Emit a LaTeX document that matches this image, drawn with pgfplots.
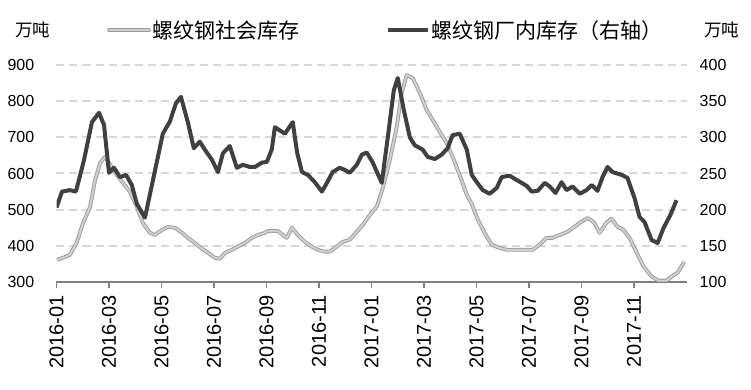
\documentclass[border=0pt]{standalone}
\usepackage{pgfplots}
\usepackage{pgfplotstable}
\pgfplotsset{compat=1.18}
\usepackage{fontspec}
\setmainfont{Liberation Sans}
\newfontfamily\cjk{Noto Sans CJK SC}
\definecolor{gout}{HTML}{9A9A9A}
\definecolor{gin}{HTML}{D0D0D0}
\definecolor{dk}{HTML}{404040}
\definecolor{gridc}{HTML}{D9D9D9}
\definecolor{axc}{HTML}{808080}

\pgfplotstableread{
m v
0.02 361
0.25 367
0.51 375
0.78 411
1.01 463
1.28 508
1.47 582
1.66 629
1.85 646
2.04 625
2.30 596
2.53 574
2.80 549
3.06 508
3.29 463
3.56 436
3.75 430
4.02 444
4.24 452
4.51 450
4.78 436
5.01 422
5.27 408
5.54 392
5.77 381
6.03 367
6.22 364
6.41 380
6.68 389
6.91 398
7.18 408
7.44 422
7.67 430
7.94 436
8.05 441
8.43 441
8.77 422
8.97 450
9.19 430
9.46 411
9.72 398
9.95 389
10.22 384
10.41 384
10.68 398
10.91 411
11.17 417
11.44 439
11.67 458
11.93 485
12.20 508
12.43 560
12.70 638
12.96 729
13.15 823
13.34 872
13.57 864
13.84 823
14.10 776
14.33 748
14.60 715
14.86 685
15.09 646
15.36 596
15.63 541
15.82 515
16.05 472
16.31 436
16.58 403
16.88 394
17.15 389
17.64 389
18.14 389
18.40 403
18.67 422
18.90 422
19.17 430
19.47 439
19.74 453
20.00 467
20.23 477
20.49 464
20.69 436
20.95 464
21.14 475
21.37 453
21.60 444
21.87 417
22.10 381
22.37 342
22.67 315
22.93 304
23.24 304
23.47 317
23.66 326
23.92 356
}\social

\pgfplotstableread{
m v
0.00 203
0.21 225
0.51 227
0.74 225
1.05 269
1.35 321
1.62 334
1.81 317
2.00 251
2.19 258
2.42 245
2.65 248
2.87 234
3.06 208
3.37 189
3.67 240
4.05 305
4.32 322
4.55 347
4.74 356
5.01 320
5.23 285
5.46 294
5.65 283
5.92 269
6.15 252
6.34 278
6.60 288
6.87 258
7.10 262
7.37 259
7.56 259
7.82 265
8.01 266
8.20 283
8.32 314
8.70 305
9.00 321
9.16 280
9.35 252
9.58 248
9.84 238
10.11 225
10.30 237
10.52 252
10.79 258
10.98 255
11.17 251
11.44 262
11.63 276
11.82 279
12.05 265
12.39 237
12.62 300
12.85 365
13.00 382
13.23 338
13.46 300
13.65 289
13.95 283
14.14 273
14.41 270
14.67 276
14.90 285
15.09 303
15.36 305
15.63 283
15.82 248
16.01 238
16.24 227
16.50 222
16.77 230
16.96 245
17.26 247
17.53 241
17.72 237
17.91 233
18.10 225
18.33 226
18.60 237
18.79 232
19.01 223
19.24 238
19.43 227
19.66 232
19.93 222
20.19 227
20.39 234
20.61 226
20.80 245
20.99 259
21.18 252
21.53 248
21.75 244
22.02 216
22.21 190
22.40 183
22.67 158
22.90 154
23.13 175
23.39 193
23.62 213
}\factory

\begin{document}
\begin{tikzpicture}
\path[use as bounding box] (-56.5pt,-108pt) rectangle (694.5pt,282pt);
\pgfplotsset{
  base/.style={
    scale only axis, width=630pt, height=217pt,
    at={(0,0)}, anchor=south west,
    xmin=0, xmax=24,
    /pgf/number format/assume math mode=true,
    tick label style={font=\fontsize{16}{18}\selectfont},
  }
}
\begin{axis}[base,
  ymin=300, ymax=900, ytick={300,400,...,900},
  axis x line*=bottom, axis y line*=left,
  y axis line style={draw=none},
  ytick style={draw=none},
  x axis line style={color=axc, line width=1.2pt},
  xtick={0,2,...,22},
  xticklabels={2016-01,2016-03,2016-05,2016-07,2016-09,2016-11,2017-01,2017-03,2017-05,2017-07,2017-09,2017-11},
  xtick style={color=axc, line width=1.2pt},
  tick align=outside, major tick length=6pt,
  xticklabel shift=7pt,
  xticklabel style={rotate=90, anchor=east, inner sep=0pt, font=\fontsize{20}{22}\selectfont},
  yticklabel style={inner sep=0pt, xshift=-16pt},
  ymajorgrids,
  grid style={color=gridc, line width=2pt, dash pattern=on 8pt off 5pt},
  legend columns=2,
  legend style={draw=none, fill=none, at={(0.080,1.161)}, anchor=west, inner sep=0pt,
    font=\cjk\fontsize{21}{24}\selectfont,
    /tikz/every even column/.append style={column sep=84pt},
    /tikz/every odd column/.append style={column sep=0pt}},
]
\addplot[forget plot, color=gout, line width=3.8pt, line join=round] table[x=m,y=v]{\social};
\addplot[forget plot, color=gin, line width=2.0pt, line join=round] table[x=m,y=v]{\social};
\addlegendimage{legend image code/.code={
  \draw[line width=3.8pt,color=gout,line cap=round] (0pt,0pt)--(40pt,0pt);
  \draw[line width=2pt,color=gin,line cap=round] (0pt,0pt)--(40pt,0pt);}}
\addlegendentry{螺纹钢社会库存}
\addlegendimage{legend image code/.code={
  \draw[line width=4pt,color=dk] (0pt,0pt)--(40pt,0pt);}}
\addlegendentry{螺纹钢厂内库存（右轴）}
\end{axis}
\begin{axis}[base,
  ymin=100, ymax=400, ytick={100,150,...,400},
  axis x line=none, axis y line*=right,
  y axis line style={draw=none},
  ytick style={draw=none},
  yticklabel style={inner sep=0pt, xshift=13pt, anchor=west},
]
\addplot[color=dk, line width=4pt, line join=round] table[x=m,y=v]{\factory};
\end{axis}
\node[font=\cjk\fontsize{17.5}{20}\selectfont, inner sep=0pt] at (-24pt,252pt) {万吨};
\node[font=\cjk\fontsize{17.5}{20}\selectfont, inner sep=0pt] at (665pt,252pt) {万吨};
\end{tikzpicture}
\end{document}
